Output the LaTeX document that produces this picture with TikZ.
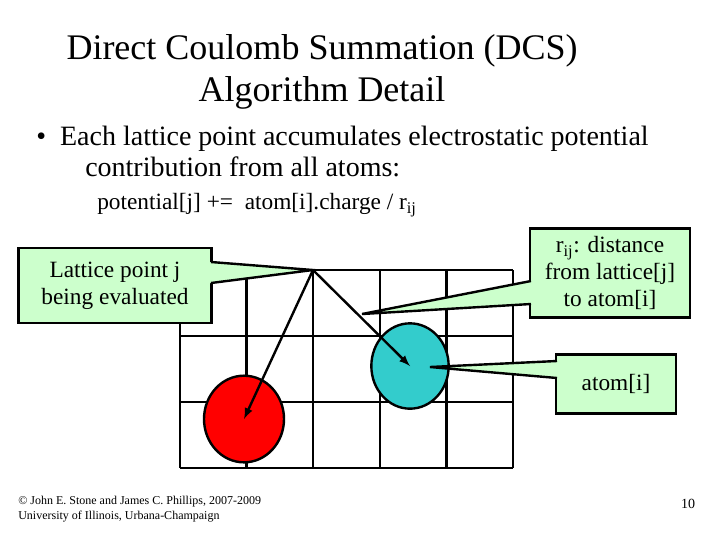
\documentclass[tikz,border=0pt]{standalone}
\usepackage{fontspec}
\setmainfont{Liberation Serif}
\usetikzlibrary{shapes.geometric}
\definecolor{atomcyan}{RGB}{51,204,204}
\definecolor{callgreen}{RGB}{204,255,204}
\begin{document}
\begin{tikzpicture}[x=0.75pt,y=-0.75pt,
  callout/.style={draw=black,line width=1.8pt,fill=callgreen,align=center,font=\fontsize{17.5}{20}\selectfont,inner sep=0pt},
  grd/.style={line width=1.8pt},
  ptr/.style={line width=1.8pt,-latex},
  wedgefill/.style={fill=callgreen},
  wedgeline/.style={line width=1.8pt}]
\useasboundingbox (0,0) rectangle (720,540);
\node[font=\fontsize{27}{32}\selectfont,align=center] (title) at (322,72) {Direct Coulomb Summation (DCS)\\Algorithm Detail};
\node[font=\fontsize{21}{23}\selectfont,anchor=north west,align=left,inner sep=0pt] (b1) at (36,126) {\textbullet\ \ Each lattice point accumulates electrostatic potential\\\hspace*{1.75em}contribution from all atoms:};
\node[font=\fontsize{17.5}{20}\selectfont,anchor=west,inner sep=0pt] (eq) at (97,205) {potential[j] += \ atom[i].charge / r\textsubscript{ij}};
% grid
\foreach \x in {180,246.6,313.2,379.8,446.4,513} \draw[grd] (\x,270) -- (\x,468);
\foreach \y in {270,336,402,468} \draw[grd] (180,\y) -- (513,\y);
\coordinate (lat) at (313,270);
\node[ellipse,draw,line width=1.8pt,fill=red,minimum width=60pt,minimum height=65pt,inner sep=0pt] (red) at (244,419) {};
\node[ellipse,draw,line width=1.8pt,fill=atomcyan,minimum width=58pt,minimum height=64pt,inner sep=0pt] (cyan) at (410,366) {};
\draw[ptr] (lat) -- (red.center);
\draw[ptr] (lat) -- (cyan.center);
% callouts
\node[callout,minimum width=145pt,minimum height=56pt] (lp) at (115,285.5) {Lattice point j\\being evaluated};
\coordinate (lpa) at (211,262); \coordinate (lpb) at (211,283);
\fill[wedgefill] (lpa) -- (lat) -- (lpb) -- ++(-4,0) -- ++(0,-21) -- cycle;
\draw[wedgeline] (lpa) -- (lat) -- (lpb);
\node[callout,minimum width=120pt,minimum height=67pt] (rij) at (610,273) {r\textsubscript{ij}: distance\\from lattice[j]\\to atom[i]};
\coordinate (rt) at (362,314); \coordinate (ra) at (531,281); \coordinate (rb) at (531,304);
\fill[wedgefill] (ra) -- (rt) -- (rb) -- ++(4,0) -- ++(0,-23) -- cycle;
\draw[wedgeline] (ra) -- (rt) -- (rb);
\node[callout,minimum width=90pt,minimum height=44pt] (at) at (616,384) {atom[i]};
\coordinate (at0) at (430,367); \coordinate (aa) at (557,361); \coordinate (ab) at (557,378);
\fill[wedgefill] (aa) -- (at0) -- (ab) -- ++(4,0) -- ++(0,-17) -- cycle;
\draw[wedgeline] (aa) -- (at0) -- (ab);
% footer
\node[font=\fontsize{9}{11}\selectfont,anchor=west,align=left,inner sep=0pt] (foot) at (18,509) {© John E. Stone and James C. Phillips, 2007-2009\\University of Illinois, Urbana-Champaign};
\node[font=\fontsize{10.5}{12}\selectfont,inner sep=0pt] (pg) at (688,504) {10};
\end{tikzpicture}
\end{document}
